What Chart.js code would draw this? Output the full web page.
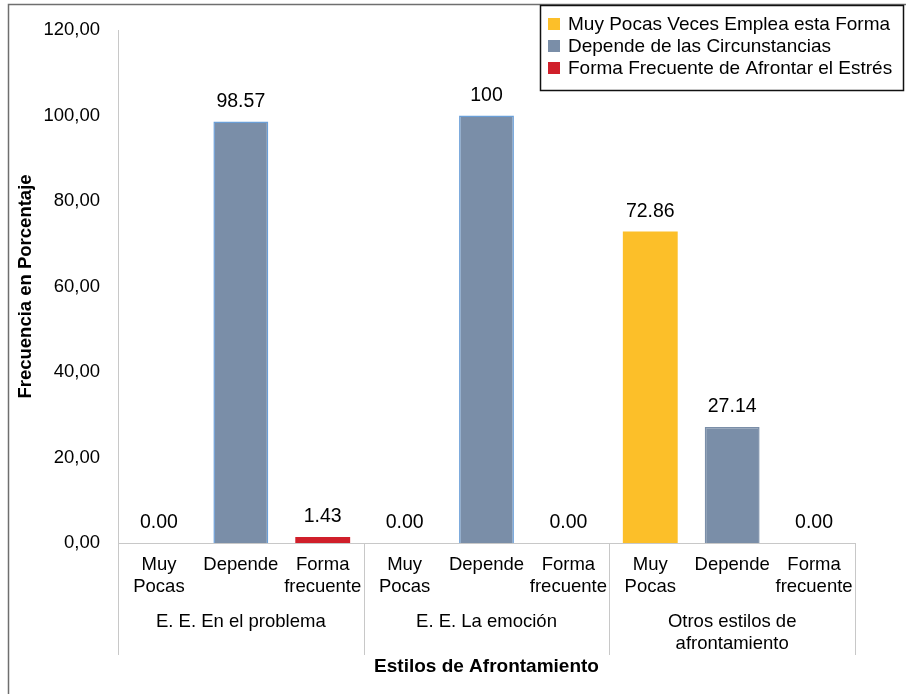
<!DOCTYPE html>
<html lang="es">
<head>
<meta charset="utf-8">
<title>Estilos de Afrontamiento</title>
<script src="https://cdn.jsdelivr.net/npm/chart.js@4.4.1/dist/chart.umd.min.js"></script>
<style>
  html, body { margin: 0; padding: 0; background: #fff; }
  #chart { display: block; }
</style>
</head>
<body>
<canvas id="chart" width="906" height="694"></canvas>
<script>
// datos del gráfico
const categorias = [
    ['Muy', 'Pocas'], 'Depende', ['Forma', 'frecuente'],
    ['Muy', 'Pocas'], 'Depende', ['Forma', 'frecuente'],
    ['Muy', 'Pocas'], 'Depende', ['Forma', 'frecuente']
];
const grupos = ['E. E. En el problema', 'E. E. La emoción', ['Otros estilos de', 'afrontamiento']];
const serieMuyPocas = [0.00, null, null, 0.00, null, null, 72.86, null, null];
const serieDepende = [null, 98.57, null, null, 100, null, null, 27.14, null];
const serieFrecuente = [null, null, 1.43, null, null, 0.00, null, null, 0.00];
const nombresSeries = [
    'Muy Pocas Veces Emplea esta Forma',
    'Depende de las Circunstancias',
    'Forma Frecuente de Afrontar el Estrés'
];
const yMin = 0, yMax = 120, yPaso = 20;

const familia = "'Liberation Sans', Arial, sans-serif";
Chart.defaults.font.family = familia;
Chart.defaults.font.size = 18.5;
Chart.defaults.color = '#000';

// etiquetas de valor encima de cada barra
const etiquetasPlugin = {
    id: 'etiquetas',
    afterDatasetsDraw(chart) {
        const ctx = chart.ctx;
        ctx.save();
        ctx.font = '19.5px ' + familia;
        ctx.fillStyle = '#000';
        ctx.textAlign = 'center';
        ctx.textBaseline = 'middle';
        chart.data.datasets.forEach((ds, i) => {
            const meta = chart.getDatasetMeta(i);
            meta.data.forEach((bar, j) => {
                const v = ds.data[j];
                if (v === null || v === undefined) return;
                const txt = (Number.isInteger(v) && v > 0) ? String(v) : v.toFixed(2);
                ctx.fillText(txt, bar.x, bar.y - 20);
            });
        });
        ctx.restore();
    }
};

// marco, separadores de grupo y leyenda con borde
const adornosPlugin = {
    id: 'adornos',
    afterDraw(chart) {
        const ctx = chart.ctx;
        const x = chart.scales.x;
        const area = chart.chartArea;
        ctx.save();

        // separadores de grupo
        const paso = x.getPixelForValue(1) - x.getPixelForValue(0);
        ctx.strokeStyle = '#c8c8c8';
        ctx.lineWidth = 1;
        for (let g = 0; g <= 3; g++) {
            const px = Math.round(x.getPixelForValue(g * 3) - paso / 2) + 0.5;
            ctx.beginPath();
            ctx.moveTo(px, area.bottom);
            ctx.lineTo(px, area.bottom + 112);
            ctx.stroke();
        }

        // marco exterior
        ctx.strokeStyle = '#6f6f6f';
        ctx.lineWidth = 1.5;
        ctx.beginPath();
        ctx.moveTo(8.5, chart.height);
        ctx.lineTo(8.5, 4.5);
        ctx.lineTo(chart.width, 4.5);
        ctx.stroke();

        // leyenda
        const lx = 540, ly = 5, lw = 363, lh = 85;
        ctx.fillStyle = '#fff';
        ctx.fillRect(lx, ly, lw, lh);
        ctx.strokeStyle = '#111';
        ctx.lineWidth = 1.5;
        ctx.strokeRect(lx + 0.5, ly + 0.5, lw, lh);
        ctx.font = '19px ' + familia;
        ctx.textAlign = 'left';
        ctx.textBaseline = 'middle';
        chart.data.datasets.forEach((ds, i) => {
            const cy = ly + 19 + i * 22;
            ctx.fillStyle = ds.backgroundColor;
            ctx.fillRect(lx + 8, cy - 6, 12, 12);
            ctx.fillStyle = '#000';
            ctx.fillText(ds.label, lx + 28, cy + 1);
        });
        ctx.restore();
    }
};

new Chart(document.getElementById('chart'), {
    type: 'bar',
    data: {
        labels: categorias,
        datasets: [
            {
                label: nombresSeries[0],
                data: serieMuyPocas,
                backgroundColor: '#fcbf29'
            },
            {
                label: nombresSeries[1],
                data: serieDepende,
                backgroundColor: '#7a8ea8',
                borderColor: ctx => ctx.dataIndex < 6 ? '#6a9fd8' : '#7a8ea8',
                borderWidth: 1.5
            },
            {
                label: nombresSeries[2],
                data: serieFrecuente,
                backgroundColor: '#d01f2a'
            }
        ]
    },
    options: {
        responsive: false,
        animation: false,
        grouped: false,
        categoryPercentage: 1,
        barPercentage: 0.67,
        layout: {
            padding: { left: 10, top: 30, right: 51, bottom: 10 }
        },
        plugins: {
            legend: { display: false },
            tooltip: { enabled: false }
        },
        scales: {
            x: {
                position: 'bottom',
                grid: { display: false, drawTicks: false },
                border: { display: true, color: '#c8c8c8' },
                ticks: {
                    autoSkip: false,
                    maxRotation: 0,
                    minRotation: 0,
                    padding: 11,
                    font: { size: 18.5, lineHeight: 1.19 }
                },
                afterFit: s => { s.height = 58; }
            },
            x2: {
                type: 'category',
                position: 'bottom',
                labels: grupos,
                offset: true,
                grid: { display: false, drawTicks: false },
                border: { display: false },
                ticks: {
                    autoSkip: false,
                    maxRotation: 0,
                    minRotation: 0,
                    padding: 10,
                    font: { size: 18.5, lineHeight: 1.19 }
                },
                title: {
                    display: true,
                    text: 'Estilos de Afrontamiento',
                    font: { size: 19, weight: 'bold' },
                    padding: { top: 0, bottom: 6 }
                },
                afterFit: s => { s.height = 83; }
            },
            y: {
                min: yMin,
                max: yMax,
                ticks: {
                    stepSize: yPaso,
                    padding: 18,
                    font: { size: 18.5 },
                    callback: v => v.toFixed(2).replace('.', ',')
                },
                grid: { display: false, drawTicks: false },
                border: { display: true, color: '#c8c8c8' },
                title: {
                    display: true,
                    text: 'Frecuencia en Porcentaje',
                    font: { size: 18.5, weight: 'bold' },
                    padding: { top: 5, bottom: 0 }
                },
                afterFit: s => { s.width = 108; }
            }
        }
    },
    plugins: [etiquetasPlugin, adornosPlugin]
});
</script>
</body>
</html>
